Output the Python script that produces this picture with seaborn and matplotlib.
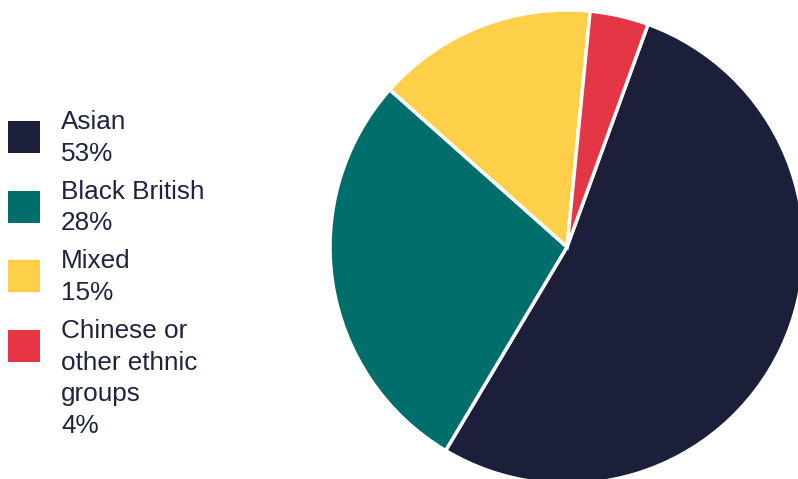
import matplotlib
matplotlib.use("Agg")
import matplotlib.pyplot as plt
from matplotlib.patches import Rectangle
import seaborn as sns

# Ethnic group breakdown
groups = ["Asian", "Black British", "Mixed", "Chinese or\nother ethnic\ngroups"]
shares = [53, 28, 15, 4]
colors = ["#1b1f3a", "#006f6c", "#fed04a", "#e43645"]
text_color = "#1e2340"

sns.set_theme(style="white")
plt.rcParams["font.family"] = ["Liberation Sans", "DejaVu Sans"]
palette = sns.color_palette(colors)

W, H = 798, 479
fig = plt.figure(figsize=(W / 100, H / 100), dpi=100)

# Pie axes: centre (567, 247) px, radius 237 px
cx, cy, r = 567, 247, 237
ax = fig.add_axes([(cx - r) / W, (H - cy - r) / H, 2 * r / W, 2 * r / H])
ax.pie(shares, colors=palette, startangle=70, counterclock=False,
       wedgeprops=dict(edgecolor="white", linewidth=2.5))
ax.set_xlim(-1, 1)
ax.set_ylim(-1, 1)
ax.set_aspect("equal")
ax.axis("off")

# Legend on the left
def fx(px):
    return px / W

def fy(py):
    return 1 - py / H

line_h = 31.7
y = 129
for name, share, col in zip(groups, shares, palette):
    fig.add_artist(Rectangle((fx(8), fy(y + 24)), 32 / W, 32 / H,
                             transform=fig.transFigure, facecolor=col,
                             edgecolor="none"))
    lines = name.split("\n")
    for i, ln in enumerate(lines):
        fig.text(fx(61), fy(y + i * line_h), ln, fontsize=18.8,
                 color=text_color, va="baseline", ha="left")
    last = y + len(lines) * line_h
    fig.text(fx(61), fy(last), f"{share}%", fontsize=18.8,
             color=text_color, va="baseline", ha="left")
    y = last + 38

fig.savefig("out.png", dpi=100, facecolor="white")
